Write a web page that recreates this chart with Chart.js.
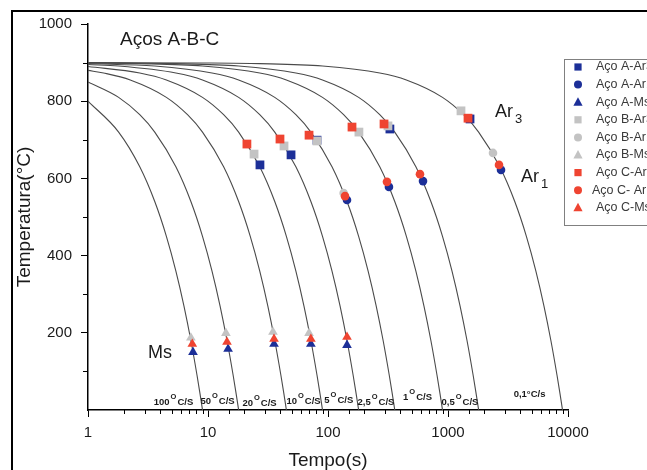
<!DOCTYPE html>
<html>
<head>
<meta charset="utf-8">
<script src="https://cdn.jsdelivr.net/npm/chart.js@4.4.1/dist/chart.umd.min.js"></script>
<style>
  html, body { margin: 0; padding: 0; background: #fff; }
  #wrap { width: 647px; height: 470px; position: relative; }
</style>
</head>
<body>
<div id="wrap"><canvas id="cct"></canvas></div>
<script>
// cooling curves [time s, temperature °C]
const curve100 = [[1,800],[1.8,720],[2.7,630],[3.6,540],[4.5,450],[5.4,360],[6.3,270],[7.2,180],[8.1,90],[8.55,45],[9,0]]
const curve50 = [[1,850],[1.8,810],[2.7,765],[3.6,720],[5.4,630],[7.2,540],[9,450],[10.8,360],[12.6,270],[14.4,180],[16.2,90],[17.1,45],[18,0]]
const curve20 = [[1,880],[1.35,873],[2.25,855],[4.5,810],[6.75,765],[9,720],[13.5,630],[18,540],[22.5,450],[27,360],[31.5,270],[36,180],[40.5,90],[42.75,45],[45,0]]
const curve10 = [[1,890],[2.7,873],[4.5,855],[9,810],[13.5,765],[18,720],[27,630],[36,540],[45,450],[54,360],[63,270],[72,180],[81,90],[85.5,45],[90,0]]
const curve5 = [[1,895],[1.8,891],[5.4,873],[9,855],[18,810],[27,765],[36,720],[54,630],[72,540],[90,450],[108,360],[126,270],[144,180],[162,90],[171,45],[180,0]]
const curve2_5 = [[1,897.5],[3.6,891],[10.8,873],[18,855],[36,810],[54,765],[72,720],[108,630],[144,540],[180,450],[216,360],[252,270],[288,180],[324,90],[342,45],[360,0]]
const curve1 = [[1,899],[2.7,897.3],[9,891],[27,873],[45,855],[90,810],[135,765],[180,720],[270,630],[360,540],[450,450],[540,360],[630,270],[720,180],[810,90],[855,45],[900,0]]
const curve0_5 = [[1,899.5],[5.4,897.3],[18,891],[54,873],[90,855],[180,810],[270,765],[360,720],[540,630],[720,540],[900,450],[1080,360],[1260,270],[1440,180],[1620,90],[1710,45],[1800,0]]
const curve0_1 = [[1,899.9],[9,899.1],[27,897.3],[90,891],[270,873],[450,855],[900,810],[1350,765],[1800,720],[2700,630],[3600,540],[4500,450],[5400,360],[6300,270],[7200,180],[8100,90],[8550,45],[9000,0]]

// transformation points per steel
const aAr3 = [[27.1,635],[49.2,661],[81,699],[328,728],[1526,754]]
const aAr1 = [[144,544],[322,578],[619,593],[2766,622]]
const aMs = [[7.5,150],[14.7,158],[35.5,171],[72,171],[144,168]]
const bAr3 = [[24.2,663],[43,684],[81,697],[181,720],[316,736],[1283,775]]
const bAr1 = [[135,562],[2371,666]]
const bMs = [[7.2,187],[14.1,199],[34.8,202],[69.5,199]]
const cAr3 = [[21.1,689],[39.8,702],[69.5,712],[158.5,733],[293,741],[1468,756]]
const cAr1 = [[138.6,554],[310,591],[584,611],[2661,635]]
const cMs = [[7.4,171],[14.4,176],[35.5,184],[72,184],[144,189]]

// cooling-rate labels and where they sit (time, temperature)
const rateNums = ["100", "50", "20", "10", "5", "2,5", "1", "0,5"]
const rateAtTime = [5.16, 12, 26.9, 62.5, 123, 251, 557, 1259]
const rateAtTemp = [13, 16, 10, 16, 18, 13, 26, 13]
const slowRateLabel = "0,1°C/s"
const slowRateAt = [4780, 34]

const xTicks = [1, 10, 100, 1000, 10000]

const FONT = "'Liberation Sans', Arial, sans-serif"
const BLUE = "#1c2f98"
const GRAY = "#c3c3c3"
const RED = "#ef4431"

const toXY = arr => arr.map(p => ({ x: p[0], y: p[1] }))

const curves = [curve100, curve50, curve20, curve10, curve5, curve2_5, curve1, curve0_5, curve0_1]
const curveSets = curves.map(c => ({
  data: toXY(c),
  showLine: true,
  borderColor: "#4a4a4a",
  borderWidth: 1.1,
  pointRadius: 0,
  cubicInterpolationMode: "monotone",
  order: 10
}))

function markers(label, data, color, style, order) {
  const r = style === "rect" ? 6.2 : style === "circle" ? 4.3 : 5.6
  return {
    label: label,
    data: toXY(data),
    pointStyle: style,
    pointRadius: r,
    pointHoverRadius: r,
    backgroundColor: color,
    borderColor: color,
    borderWidth: 0,
    order: order
  }
}

const markerSets = [
  markers("Aço A-Ar3", aAr3, BLUE, "rect", 3),
  markers("Aço A-Ar1", aAr1, BLUE, "circle", 3),
  markers("Aço A-Ms", aMs, BLUE, "triangle", 3),
  markers("Aço B-Ar3", bAr3, GRAY, "rect", 2),
  markers("Aço B-Ar1", bAr1, GRAY, "circle", 2),
  markers("Aço B-Ms", bMs, GRAY, "triangle", 2),
  markers("Aço C-Ar3", cAr3, RED, "rect", 1),
  markers("Aço C- Ar1", cAr1, RED, "circle", 1),
  markers("Aço C-Ms", cMs, RED, "triangle", 1)
]

const isDecade = v => Math.abs(Math.log10(v) - Math.round(Math.log10(v))) < 1e-9

function drawMarker(ctx, style, x, y, r) {
  ctx.beginPath()
  if (style === "rect") {
    ctx.rect(x - r, y - r, 2 * r, 2 * r)
  } else if (style === "circle") {
    ctx.arc(x, y, r, 0, Math.PI * 2)
  } else {
    ctx.moveTo(x, y - r * 1.1)
    ctx.lineTo(x + r, y + r * 0.75)
    ctx.lineTo(x - r, y + r * 0.75)
    ctx.closePath()
  }
  ctx.fill()
}

// frame, minor ticks, text labels and legend
const decorations = {
  id: "decorations",
  afterDraw(chart) {
    const ctx = chart.ctx
    const xs = chart.scales.x
    const ys = chart.scales.y
    const area = chart.chartArea
    ctx.save()

    // outer frame
    ctx.strokeStyle = "#000"
    ctx.lineWidth = 2
    ctx.strokeRect(12, 11, 800, 600)

    // minor ticks
    ctx.lineWidth = 1
    ctx.beginPath()
    xs.ticks.forEach(t => {
      if (isDecade(t.value)) return
      const px = Math.round(xs.getPixelForValue(t.value)) + 0.5
      ctx.moveTo(px, area.bottom)
      ctx.lineTo(px, area.bottom + 4)
    })
    ys.ticks.forEach(t => {
      if (t.value % 200 === 0) return
      const py = Math.round(ys.getPixelForValue(t.value)) + 0.5
      ctx.moveTo(area.left, py)
      ctx.lineTo(area.left - 5, py)
    })
    ctx.stroke()

    // titles in the plot
    ctx.fillStyle = "#1a1a1a"
    ctx.textBaseline = "alphabetic"
    ctx.textAlign = "left"
    ctx.font = "19px " + FONT
    ctx.fillText("Aços A-B-C", 120, 45)
    ctx.font = "18px " + FONT
    ctx.fillText("Ms", 148, 358)
    ctx.fillText("Ar", 495, 117)
    ctx.fillText("Ar", 521, 182)
    ctx.font = "13px " + FONT
    ctx.fillText("3", 515, 123)
    ctx.fillText("1", 541, 188)

    // cooling rate labels
    rateNums.forEach((num, i) => {
      const cx = xs.getPixelForValue(rateAtTime[i])
      const by = ys.getPixelForValue(rateAtTemp[i])
      ctx.font = "bold 9.5px " + FONT
      const w1 = ctx.measureText(num).width
      const w3 = ctx.measureText("C/S").width
      ctx.font = "bold 7.5px " + FONT
      const w2 = ctx.measureText("O").width
      let x = cx - (w1 + w2 + w3 + 2) / 2
      ctx.font = "bold 9.5px " + FONT
      ctx.fillText(num, x, by)
      x += w1 + 1
      ctx.font = "bold 7.5px " + FONT
      ctx.fillText("O", x, by - 6)
      x += w2 + 1
      ctx.font = "bold 9.5px " + FONT
      ctx.fillText("C/S", x, by)
    })
    ctx.font = "bold 9.5px " + FONT
    ctx.textAlign = "center"
    ctx.fillText(slowRateLabel, xs.getPixelForValue(slowRateAt[0]), ys.getPixelForValue(slowRateAt[1]))

    // legend box
    ctx.strokeStyle = "#808080"
    ctx.lineWidth = 1
    ctx.strokeRect(564.5, 59.5, 200, 166)
    ctx.textAlign = "left"
    ctx.textBaseline = "middle"
    ctx.font = "12.5px " + FONT
    markerSets.forEach((ds, i) => {
      const y = 67 + i * 17.6
      ctx.fillStyle = ds.backgroundColor
      const r = ds.pointStyle === "rect" ? 3.6 : ds.pointStyle === "circle" ? 4 : 4.6
      drawMarker(ctx, ds.pointStyle, 578, y, r)
      ctx.fillStyle = "#3a3a3a"
      ctx.fillText(ds.label, ds.label === "Aço C- Ar1" ? 592 : 596, y)
    })
    ctx.restore()
  }
}

new Chart(document.getElementById("cct"), {
  type: "scatter",
  data: { datasets: curveSets.concat(markerSets) },
  options: {
    responsive: true,
    maintainAspectRatio: false,
    animation: false,
    events: [],
    layout: { padding: { left: 0, top: 24, right: 79, bottom: 0 } },
    scales: {
      x: {
        type: "logarithmic",
        min: 1,
        max: 10000,
        afterFit: scale => { scale.height = 60 },
        border: { display: true, color: "#000", width: 1.5 },
        grid: {
          drawOnChartArea: false,
          drawTicks: true,
          tickLength: 7,
          tickWidth: 1,
          tickColor: c => (c.tick && isDecade(c.tick.value) ? "#000" : "rgba(0,0,0,0)")
        },
        ticks: {
          autoSkip: false,
          maxRotation: 0,
          padding: 7,
          color: "#1a1a1a",
          font: { family: FONT, size: 15 },
          callback: v => (xTicks.includes(v) ? String(v) : "")
        },
        title: {
          display: true,
          text: "Tempo(s)",
          color: "#1a1a1a",
          font: { family: FONT, size: 19, lineHeight: 1 },
          padding: { top: 0, bottom: 0 }
        }
      },
      y: {
        min: 0,
        max: 1000,
        afterFit: scale => { scale.width = 88 },
        border: { display: true, color: "#000", width: 1.5 },
        grid: {
          drawOnChartArea: false,
          drawTicks: true,
          tickLength: 7,
          tickWidth: 1,
          tickColor: c => (c.tick && c.tick.value % 200 === 0 && c.tick.value > 0 ? "#000" : "rgba(0,0,0,0)")
        },
        ticks: {
          stepSize: 100,
          padding: 9,
          color: "#1a1a1a",
          font: { family: FONT, size: 15 },
          callback: v => (v % 200 === 0 && v > 0 ? String(v) : "")
        },
        title: {
          display: true,
          text: "Temperatura(°C)",
          color: "#1a1a1a",
          font: { family: FONT, size: 19, lineHeight: 1 },
          padding: { top: 15, bottom: 0 }
        }
      }
    },
    plugins: {
      legend: { display: false },
      tooltip: { enabled: false }
    }
  },
  plugins: [decorations]
})
</script>
</body>
</html>
